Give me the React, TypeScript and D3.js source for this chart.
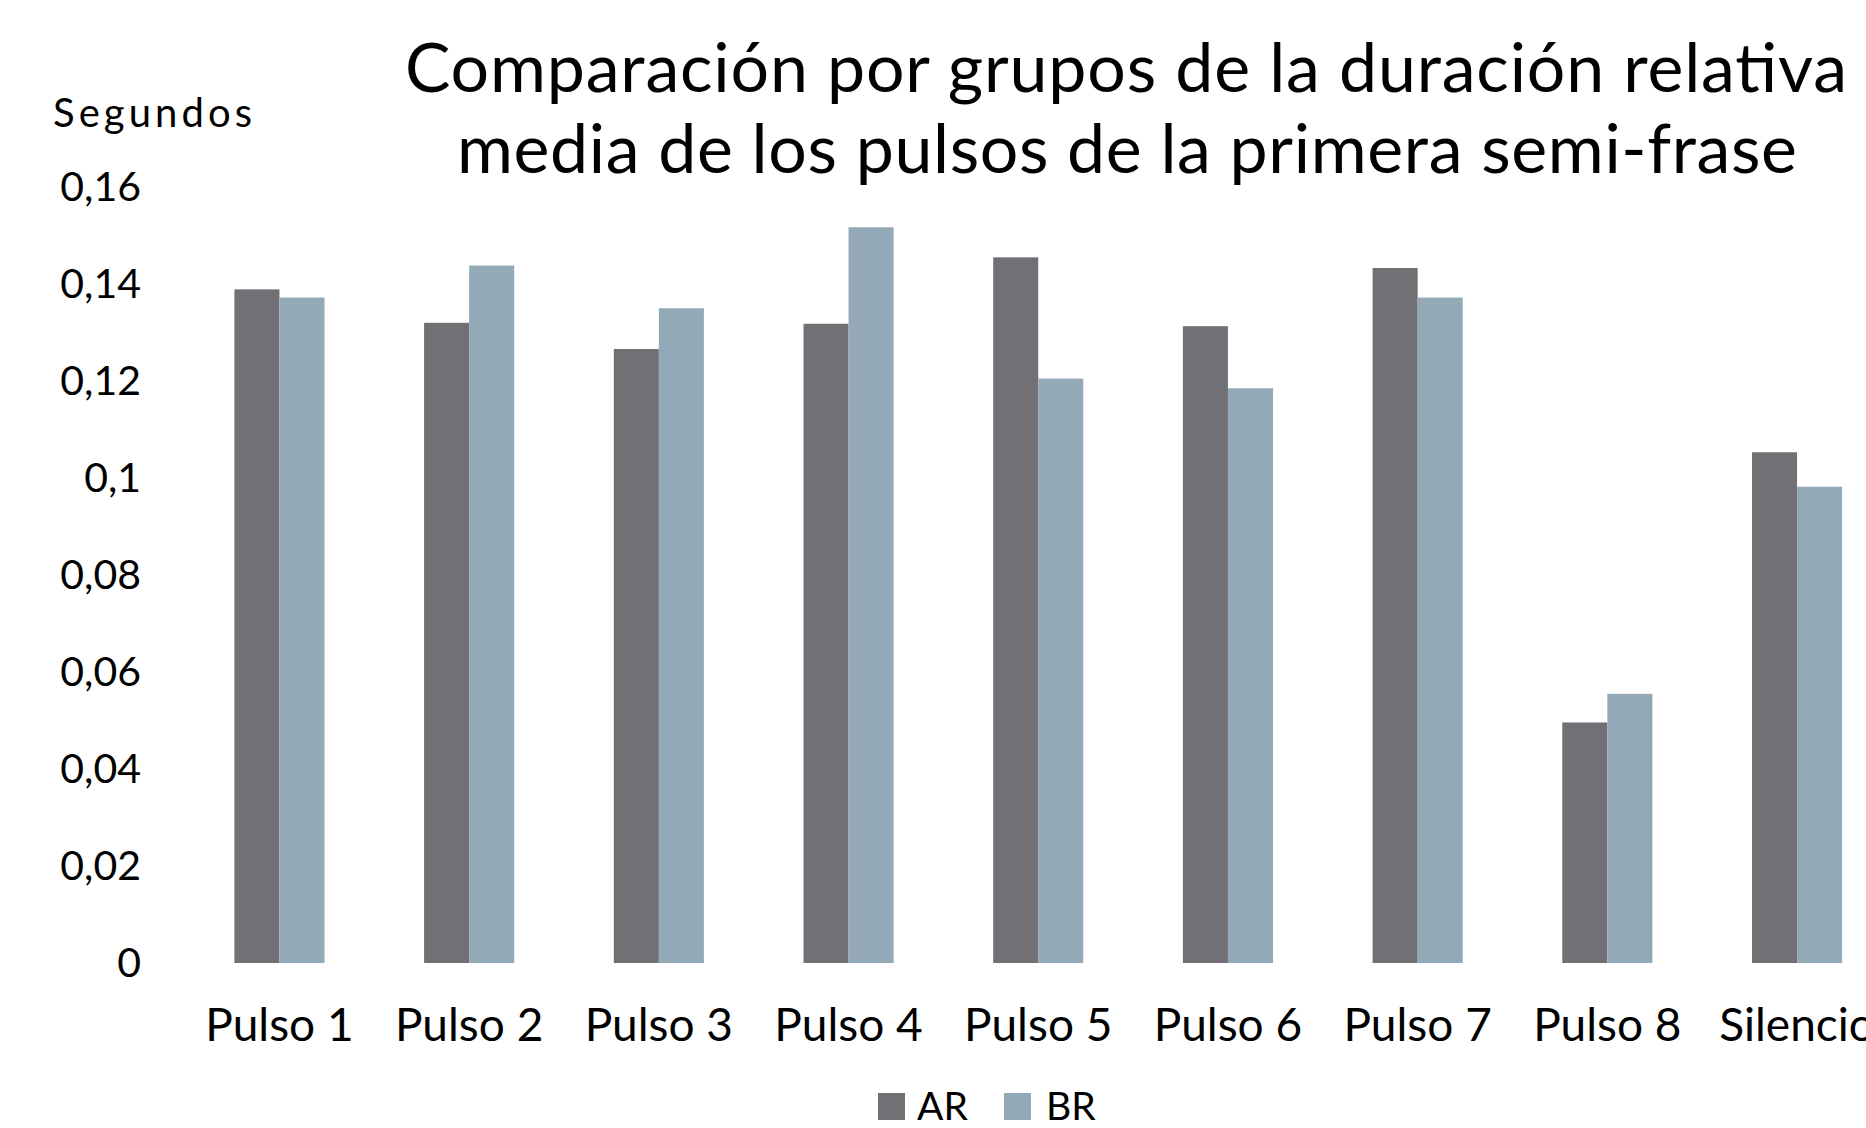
import React from 'react'
import * as d3 from 'd3'

const categories = ['Pulso 1', 'Pulso 2', 'Pulso 3', 'Pulso 4', 'Pulso 5', 'Pulso 6', 'Pulso 7', 'Pulso 8', 'Silencio']
const seriesNames = ['AR', 'BR']
const arValues = [0.1389, 0.1320, 0.1266, 0.1318, 0.1455, 0.1313, 0.1433, 0.0496, 0.1053]
const brValues = [0.1372, 0.1438, 0.1350, 0.1517, 0.1205, 0.1185, 0.1372, 0.0555, 0.0982]
const yTicks = [0, 0.02, 0.04, 0.06, 0.08, 0.1, 0.12, 0.14, 0.16]
const titleLines = ['Comparación por grupos de la duración relativa', 'media de los pulsos de la primera semi-frase']
const yLabel = 'Segundos'

const width = 1866
const height = 1128
const colors = ['#717075', '#93a9b8']
const font = 'Lato, "Noto Sans", sans-serif'

// plot runs past the right edge, as in the original (Silencio is cut off)
const x = d3.scaleBand<string>()
    .domain(categories)
    .range([184.6, 1891.9])
    .paddingInner(0.525)
    .paddingOuter(0.2625)

const xSub = d3.scaleBand<string>()
    .domain(seriesNames)
    .range([0, x.bandwidth()])

const y = d3.scaleLinear()
    .domain([0, 0.16])
    .range([963, 187])

const fmt = d3.formatLocale({decimal: ',', thousands: '.', grouping: [3], currency: ['', '']}).format('~g')

export default function App() {
    const series = [arValues, brValues]
    return (
        <svg width={width} height={height} viewBox={`0 0 ${width} ${height}`}
             style={{position: 'absolute', left: 0, top: 0, background: '#fff', overflow: 'hidden'}}
             fontFamily={font}>
            <rect width={width} height={height} fill="#fff"/>

            <g textAnchor="middle" fontSize={68} fill="#000">
                <text x={1126} y={92} textLength={1442} lengthAdjust="spacing">{titleLines[0]}</text>
                <text x={1127} y={173} textLength={1340} lengthAdjust="spacing">{titleLines[1]}</text>
            </g>

            <text x={53} y={127} fontSize={40} fill="#000" textLength={199} lengthAdjust="spacing">{yLabel}</text>

            <g textAnchor="end" fontSize={41} fill="#000">
                {yTicks.map(t => (
                    <text key={t} x={141} y={y(t) + 14}>{fmt(t)}</text>
                ))}
            </g>

            <g>
                {categories.map((c, i) => (
                    <g key={c} transform={`translate(${x(c)},0)`}>
                        {seriesNames.map((s, j) => (
                            <rect key={s}
                                  x={xSub(s)}
                                  y={y(series[j][i])}
                                  width={xSub.bandwidth()}
                                  height={y(0) - y(series[j][i])}
                                  fill={colors[j]}/>
                        ))}
                    </g>
                ))}
            </g>

            <g textAnchor="middle" fontSize={46} fill="#000">
                {categories.map(c => (
                    <text key={c} x={(x(c) ?? 0) + x.bandwidth() / 2} y={1041}>{c}</text>
                ))}
            </g>

            <g fontSize={39} fill="#000">
                <rect x={878} y={1093} width={27} height={27} fill={colors[0]}/>
                <text x={917} y={1120}>{seriesNames[0]}</text>
                <rect x={1004} y={1093} width={27} height={27} fill={colors[1]}/>
                <text x={1046} y={1120}>{seriesNames[1]}</text>
            </g>
        </svg>
    )
}
